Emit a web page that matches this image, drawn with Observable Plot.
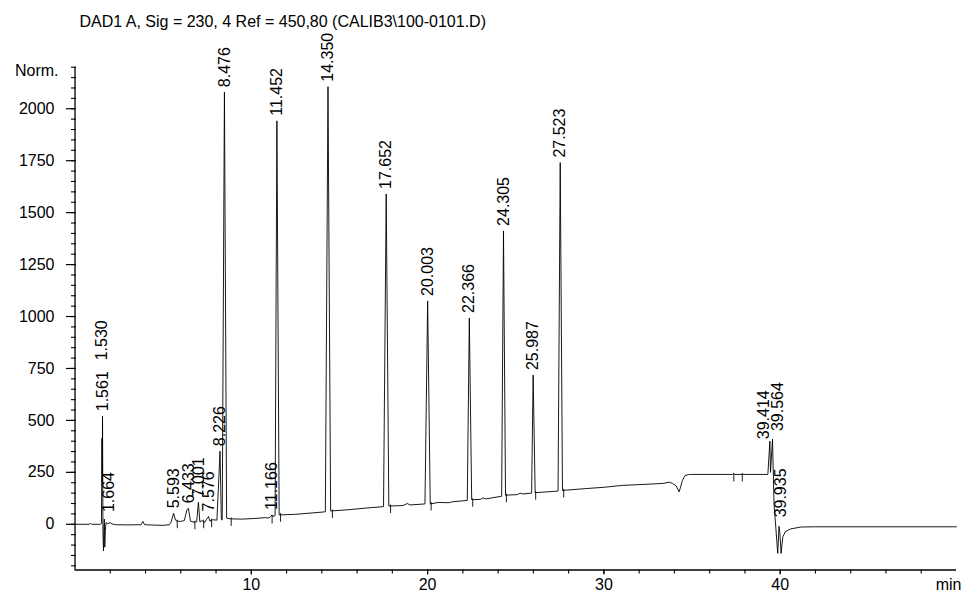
<!DOCTYPE html>
<html>
<head>
<meta charset="utf-8">
<script src="https://cdn.jsdelivr.net/npm/d3@7"></script>
<script src="https://cdn.jsdelivr.net/npm/@observablehq/plot@0.6"></script>
<style>
  html, body { margin: 0; padding: 0; background: #fff; }
  #chart { width: 962px; height: 594px; }
</style>
</head>
<body>
<div id="chart"></div>
<script>
const title = "DAD1 A, Sig = 230, 4 Ref = 450,80 (CALIB3\\100-0101.D)";
const yLabel = "Norm.";
const xLabel = "min";

// chromatogram trace (retention time in min, signal in mAU)
const traceTime = [
  0, 0.8, 0.88, 0.95, 1.45, 1.50, 1.53, 1.545, 1.561, 1.585, 1.615, 1.64, 1.664, 1.69, 1.72, 1.76, 1.85, 2.0, 2.1, 2.3,
  3.0, 3.75, 3.85, 3.95, 4.5, 5.0, 5.35, 5.45, 5.593, 5.7, 5.8, 6.0, 6.2, 6.35, 6.433, 6.55, 6.75, 6.9, 7.001, 7.08,
  7.2, 7.35, 7.45, 7.576, 7.65, 7.8, 8.05, 8.226, 8.3, 8.35, 8.476, 8.6, 8.8, 9.5, 10.2, 10.8, 11.0, 11.1, 11.166, 11.22,
  11.35, 11.452, 11.58, 12.5, 13.5, 14.2, 14.35, 14.5, 15.5, 16.5, 17.5, 17.652, 17.8, 18.6, 18.85, 19.0, 19.85, 20.003, 20.15, 20.6,
  21.2, 21.4, 22.25, 22.366, 22.5, 23.0, 23.15, 23.3, 24.2, 24.305, 24.42, 25.1, 25.25, 25.4, 25.9, 25.987, 26.1, 27.4, 27.523, 27.65,
  29, 30, 31, 32.5, 33.4, 33.7, 33.9, 34.1, 34.27, 34.45, 34.6, 34.85, 37.3, 37.35, 37.4, 39.3, 39.414, 39.45, 39.564, 39.65,
  39.86, 39.935, 39.98, 40.05, 40.15, 40.3, 40.6, 41.2, 42, 50
];
const traceValue = [
  0, 0, 4, 0, 0, 5, 414, 200, 520, -40, -128, -20, 25, -110, -30, 8, 3, 8, 2, -2,
  -3, -2, 14, -2, -4, -5, -2, 10, 53, 20, 15, 14, 18, 70, 77, 15, 10, 12, 106, 12,
  18, 8, 22, 38, 15, 22, 20, 352, 25, 20, 2080, 30, 26, 25, 28, 32, 30, 38, 45, 38,
  42, 1942, 45, 48, 55, 60, 2106, 64, 70, 78, 85, 1590, 88, 90, 100, 93, 98, 1075, 98, 105,
  104, 108, 115, 993, 118, 120, 127, 122, 135, 1412, 140, 143, 150, 146, 150, 718, 152, 160, 1741, 163,
  172, 178, 187, 193, 197, 203, 196, 185, 156, 210, 235, 240, 240, 243, 240, 240, 400, 250, 410, 100,
  -140, -10, -40, -140, -60, -35, -22, -13, -12, -12
];

// labelled peaks: retention time and apex height
const peakTimes = [1.530, 1.561, 1.664, 5.593, 6.433, 7.001, 7.576, 8.226, 8.476, 11.166, 11.452,
  14.350, 17.652, 20.003, 22.366, 24.305, 25.987, 27.523, 39.414, 39.564, 39.935];
const peakHeights = [414, 520, 25, 53, 77, 106, 38, 352, 2080, 45, 1942,
  2106, 1590, 1075, 993, 1412, 718, 1741, 400, 410, -10];

// integration event marks (time, baseline level)
const eventTimes = [5.8, 6.8, 7.3, 7.75, 8.86, 11.18, 11.66, 14.6, 17.9, 20.2, 22.56, 24.47, 26.13, 27.72, 37.37, 37.85];
const eventLevels = [15, 10, 15, 20, 26, 38, 46, 64, 88, 100, 118, 140, 152, 163, 240, 240];

const xMajorTicks = [10, 20, 30, 40];
const xMinorTicks = d3.range(2, 49, 2);
const yMajorTicks = [0, 250, 500, 750, 1000, 1250, 1500, 1750, 2000];
const yMinorTicks = d3.range(-200, 2201, 50);

const trace = traceTime.map((t, i) => ({t, v: traceValue[i]}));
const peaks = peakTimes.map((t, i) => ({t, h: peakHeights[i], label: t.toFixed(3)}));
const events = eventTimes.map((t, i) => ({t, v: eventLevels[i]}));

const special = new Set(["1.530", "1.664", "39.414", "39.564", "39.935"]);
const pick = (lab) => peaks.filter(d => d.label === lab);
const labelOpts = {x: "t", y: "h", text: "label", rotate: -90, textAnchor: "start", lineAnchor: "middle", fontSize: 16};

const eventSymbol = {draw(ctx) { ctx.moveTo(0, -1.5); ctx.lineTo(0, 7); }};

const chart = Plot.plot({
  width: 962,
  height: 594,
  marginLeft: 74.5,
  marginRight: 6,
  marginTop: 66.7,
  marginBottom: 24.5,
  x: {domain: [0, 50], label: null},
  y: {domain: [-220, 2200], label: null},
  style: {fontFamily: "'Liberation Sans', Arial, Helvetica, sans-serif", fontSize: "16px", background: "white", color: "black", overflow: "visible"},
  marks: [
    Plot.axisY({ticks: yMinorTicks, tickSize: 5, dx: 1.5, tickFormat: () => "", strokeWidth: 1.1, label: null}),
    Plot.axisY({ticks: yMajorTicks, tickSize: 8.5, tickPadding: 12, tickFormat: d => String(d), strokeWidth: 1.2, fontSize: 16, label: null}),
    Plot.axisX({ticks: xMinorTicks, tickSize: 4, tickFormat: () => "", strokeWidth: 1.1, label: null}),
    Plot.axisX({ticks: xMajorTicks, tickSize: 5, tickPadding: 3.5, tickFormat: d => String(d), strokeWidth: 1.2, fontSize: 16, label: null}),
    Plot.ruleX([0], {strokeWidth: 1.3}),
    Plot.ruleY([-220], {strokeWidth: 1.3}),
    Plot.line(trace, {x: "t", y: "v", stroke: "black", strokeWidth: 0.9}),
    Plot.dot(events, {x: "t", y: "v", symbol: eventSymbol, stroke: "black", fill: "none", strokeWidth: 0.9}),
    Plot.text(peaks.filter(d => !special.has(d.label)), {...labelOpts, dy: -5}),
    Plot.text(pick("1.530"), {...labelOpts, dy: -78}),
    Plot.text(pick("1.664"), {...labelOpts, dx: 4.5, dy: -7}),
    Plot.text(pick("39.414"), {...labelOpts, dx: -6, dy: -2}),
    Plot.text(pick("39.564"), {...labelOpts, dx: 5, dy: -8}),
    Plot.text(pick("39.935"), {...labelOpts, dx: 1.5, dy: -9}),
    Plot.text([yLabel], {frameAnchor: "top-left", text: d => d, textAnchor: "end", lineAnchor: "middle", dx: -16.5, dy: 3.5, fontSize: 16}),
    Plot.text([xLabel], {frameAnchor: "bottom-right", text: d => d, textAnchor: "end", lineAnchor: "top", dx: 5, dy: 8.5, fontSize: 16}),
    Plot.text([title], {frameAnchor: "top-left", text: d => d, textAnchor: "start", lineAnchor: "bottom", dx: 4.5, dy: -39.7, fontSize: 16})
  ]
});
document.getElementById("chart").appendChild(chart);
</script>
</body>
</html>
